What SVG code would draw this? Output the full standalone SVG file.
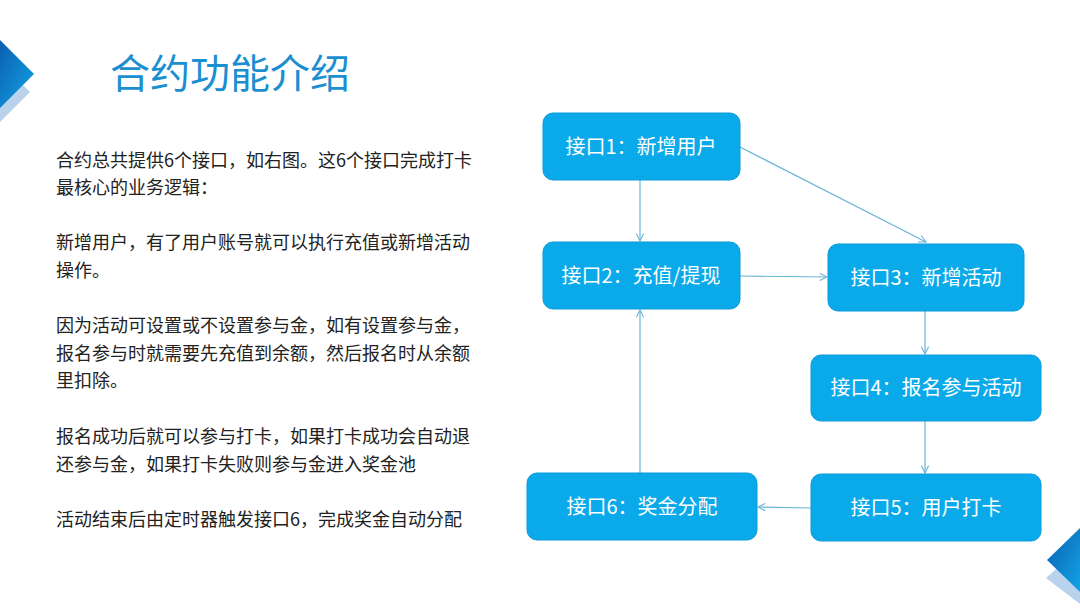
<svg xmlns="http://www.w3.org/2000/svg" width="1080" height="608" viewBox="0 0 1080 608">
<defs>
<linearGradient id="g" x1="0" y1="0" x2="1" y2="1"><stop offset="0" stop-color="#0b5fb0"/><stop offset="1" stop-color="#12a4e6"/></linearGradient>
<marker id="a" viewBox="0 0 10 10" refX="9" refY="5" markerWidth="9" markerHeight="9" orient="auto" markerUnits="userSpaceOnUse"><path d="M1 1L9 5L1 9" fill="none" stroke="#6ab4d6" stroke-width="1.2"/></marker>
<style>
.n rect{fill:#0aaaea;stroke:#0a9ad8;stroke-width:1}
.n text{fill:#fff;font:20px "Noto Sans CJK SC","Liberation Sans",sans-serif;text-anchor:middle}
.c line{stroke:#6ab4d6;stroke-width:1.2;marker-end:url(#a)}
.t{fill:#222;font:18px "Noto Sans CJK SC","Liberation Sans",sans-serif}
</style>
</defs>
<rect width="1080" height="608" fill="#fff"/>
<polygon points="0,62 30,92 0,122" fill="#b9d3ec"/>
<polygon points="0,40 34,74 0,108" fill="url(#g)"/>
<polygon points="1080,548 1046,578 1080,604" fill="#b9d3ec"/>
<polygon points="1080,528 1047,560 1080,592" fill="url(#g)"/>
<text x="110" y="88" fill="#1b8fd0" font-family="Noto Sans CJK SC,Liberation Sans,sans-serif" font-size="40">合约功能介绍</text>
<g class="t">
<text x="56" y="167">合约总共提供6个接口，如右图。这6个接口完成打卡</text>
<text x="56" y="194">最核心的业务逻辑：</text>
<text x="56" y="249">新增用户，有了用户账号就可以执行充值或新增活动</text>
<text x="56" y="277">操作。</text>
<text x="56" y="332">因为活动可设置或不设置参与金，如有设置参与金，</text>
<text x="56" y="360">报名参与时就需要先充值到余额，然后报名时从余额</text>
<text x="56" y="387">里扣除。</text>
<text x="56" y="443">报名成功后就可以参与打卡，如果打卡成功会自动退</text>
<text x="56" y="471">还参与金，如果打卡失败则参与金进入奖金池</text>
<text x="56" y="526">活动结束后由定时器触发接口6，完成奖金自动分配</text>
</g>
<g class="c">
<line x1="640" y1="180" x2="640" y2="241"/>
<line x1="740" y1="147" x2="926" y2="242"/>
<line x1="740" y1="276" x2="827" y2="277"/>
<line x1="925" y1="311" x2="925" y2="354"/>
<line x1="925" y1="421" x2="925" y2="473"/>
<line x1="811" y1="508" x2="758" y2="507"/>
<line x1="640" y1="473" x2="640" y2="310"/>
</g>
<g id="n1" class="n"><rect x="543" y="113" width="197" height="67" rx="10"/><text x="641" y="154">接口1：新增用户</text></g>
<g id="n2" class="n"><rect x="543" y="242" width="197" height="67" rx="10"/><text x="641" y="283">接口2：充值/提现</text></g>
<g id="n3" class="n"><rect x="828" y="244" width="196" height="67" rx="10"/><text x="926" y="285">接口3：新增活动</text></g>
<g id="n4" class="n"><rect x="811" y="355" width="230" height="66" rx="10"/><text x="926" y="395">接口4：报名参与活动</text></g>
<g id="n5" class="n"><rect x="811" y="474" width="230" height="67" rx="10"/><text x="926" y="515">接口5：用户打卡</text></g>
<g id="n6" class="n"><rect x="527" y="473" width="230" height="67" rx="10"/><text x="642" y="514">接口6：奖金分配</text></g>
</svg>
